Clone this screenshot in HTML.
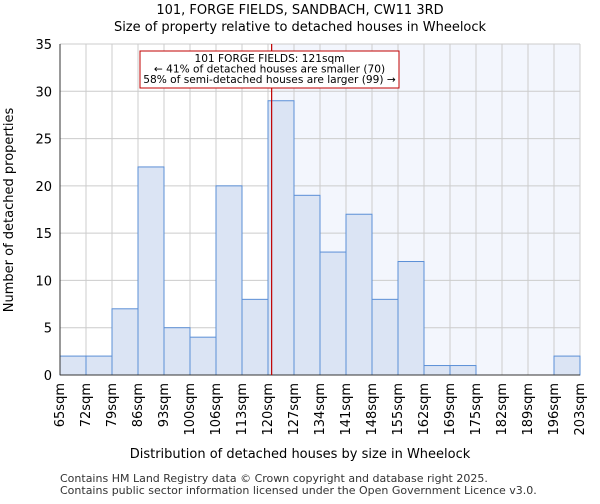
<!DOCTYPE html>
<html><head><meta charset="utf-8"><style>
body{margin:0;background:#fff;font-family:"DejaVu Sans","Liberation Sans",sans-serif}
</style></head><body>
<svg width="600" height="500" xmlns="http://www.w3.org/2000/svg" font-family="DejaVu Sans, Liberation Sans, sans-serif">
<text x="300" y="14" text-anchor="middle" font-size="13">101, FORGE FIELDS, SANDBACH, CW11 3RD</text>
<text x="300" y="31" text-anchor="middle" font-size="13">Size of property relative to detached houses in Wheelock</text>
<g id="plot"></g>
<text x="300" y="458" text-anchor="middle" font-size="13">Distribution of detached houses by size in Wheelock</text>
<text x="13" y="210" text-anchor="middle" font-size="13" transform="rotate(-90 13 210)">Number of detached properties</text>
<text x="60" y="482" font-size="11" fill="#333">Contains HM Land Registry data © Crown copyright and database right 2025.</text>
<text x="60" y="494" font-size="11" fill="#333">Contains public sector information licensed under the Open Government Licence v3.0.</text>
</svg>
<script>
const tickLabels=["65sqm","72sqm","79sqm","86sqm","93sqm","100sqm","106sqm","113sqm","120sqm","127sqm","134sqm","141sqm","148sqm","155sqm","162sqm","169sqm","175sqm","182sqm","189sqm","196sqm","203sqm"];
const counts=[2,2,7,22,5,4,20,8,29,19,13,17,8,12,1,1,0,0,0,2];
const yTicks=[0,5,10,15,20,25,30,35];
const subjectBin=8.14;
const NS="http://www.w3.org/2000/svg";
const g=document.getElementById('plot');
const L=60,R=580,T=44,B=375,yMax=35;
const bw=(R-L)/counts.length;
const x=i=>L+i*bw;
const y=v=>B-(v/yMax)*(B-T);
function mk(t,a){const e=document.createElementNS(NS,t);for(const k in a)e.setAttribute(k,a[k]);g.appendChild(e);return e;}
const sx=x(subjectBin);
let e=mk('rect',{x:sx,y:T,width:R-sx,height:B-T,fill:'#f3f6fd'});


for(let i=0;i<=counts.length;i++){e=mk('line',{x1:x(i),x2:x(i),y1:T,y2:B,stroke:'#cccccc'});

}
yTicks.forEach(v=>{e=mk('line',{x1:L,x2:R,y1:y(v),y2:y(v),stroke:'#cccccc'});


e=mk('text',{x:L-8,y:y(v)+5,'text-anchor':'end','font-size':13});e.textContent=v;

});
counts.forEach((c,i)=>{if(c<=0)return;e=mk('rect',{x:x(i),y:y(c),width:bw,height:B-y(c),fill:'#dbe4f4',stroke:'#5b8fd6','stroke-width':1});

});
tickLabels.forEach((t,i)=>{const tx=x(i)+4;e=mk('text',{x:tx,y:B+8,'text-anchor':'end','font-size':13,transform:`rotate(-90 ${tx} ${B+8})`});e.textContent=t;

});
e=mk('line',{x1:L,x2:L,y1:T,y2:B,stroke:'#333'});


e=mk('line',{x1:L,x2:R,y1:B,y2:B,stroke:'#333'});


e=mk('line',{x1:sx,x2:sx,y1:T,y2:B,stroke:'#c00000','stroke-width':1.2});


e=mk('rect',{x:140,y:51,width:259,height:37,fill:'#fff',stroke:'#c00000'});


["101 FORGE FIELDS: 121sqm","← 41% of detached houses are smaller (70)","58% of semi-detached houses are larger (99) →"].forEach((s,i)=>{e=mk('text',{x:269.5,y:62+i*10.5,'text-anchor':'middle','font-size':10.6});e.textContent=s;

});
</script>
</body></html>
